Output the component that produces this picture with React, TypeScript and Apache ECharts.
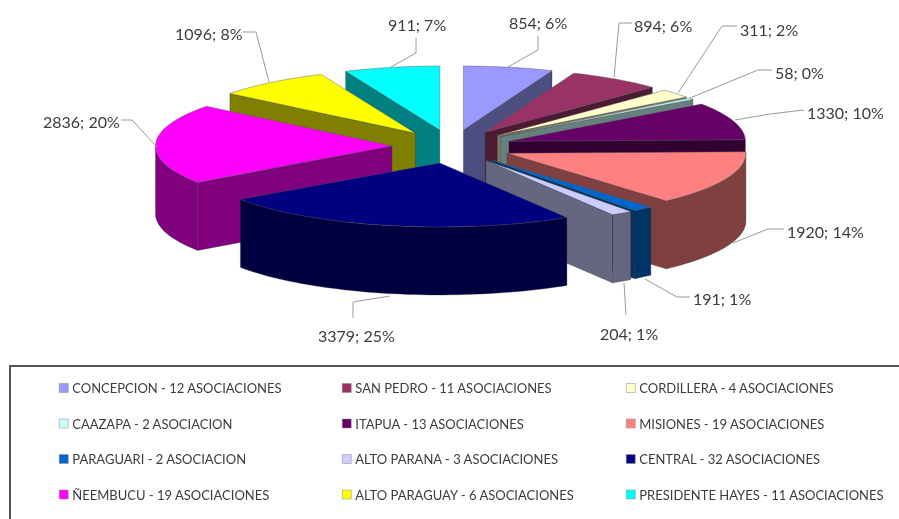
import React, { useEffect, useRef } from "react";
import * as echarts from "echarts";

// ---- data ----
const regions = ["CONCEPCION","SAN PEDRO","CORDILLERA","CAAZAPA","ITAPUA","MISIONES","PARAGUARI","ALTO PARANA","CENTRAL","ÑEEMBUCU","ALTO PARAGUAY","PRESIDENTE HAYES"];
const associations = ["12 ASOCIACIONES","11 ASOCIACIONES","4 ASOCIACIONES","2 ASOCIACION","13 ASOCIACIONES","19 ASOCIACIONES","2 ASOCIACION","3 ASOCIACIONES","32 ASOCIACIONES","19 ASOCIACIONES","6 ASOCIACIONES","11 ASOCIACIONES"];
const values = [854,894,311,58,1330,1920,191,204,3379,2836,1096,911];
const percents = [6,6,2,0,10,14,1,1,25,20,8,7];

// ---- styles ----
const topColors = ["#9999FF","#993366","#FFFFCC","#CCFFFF","#660066","#FF8080","#0066CC","#CCCCFF","#000080","#FF00FF","#FFFF00","#00FFFF"];
const sideColors = ["#4D4D80","#4D1A33","#808066","#668080","#330033","#804040","#003366","#666680","#000040","#800080","#808000","#008080"];

// ---- layout: projection of the exploded pie, label boxes and leader lines ----
const CX = 452, CY = 146.5, RX = 236.5, RY = 64, DEPTH = 68, EX = 60, EY = 16.8, NEAR = 0.025;
const labelPos: [number, number, string][] = [
  [509,22,"left"],[634,25,"left"],[740,29,"left"],[775,72,"left"],[807,112,"left"],[787,231,"left"],
  [693,298,"left"],[600,333,"left"],[318,335,"left"],[43,121,"left"],[175,33,"left"],[388,24,"left"],
];
const leaders: number[][][] = [
  [[506,68],[538,50],[538,36]],
  [[614,77],[619,23],[632,23]],
  [[678,93],[722,26],[737,26]],
  [[690,98],[758,70],[772,70]],
  [[735,120],[770,114],[804,110]],
  [[733,243],[768,229],[784,229]],
  [[645,279],[677,297],[690,297]],
  [[624,283],[626,315]],
  [[390,296],[353,302],[353,318]],
  [[157,147],[132,120],[121,120]],
  [[269,82],[256,32],[243,32]],
  [[391,67],[416,53],[416,38]],
];
const legendColumns = [[0,3,6,9],[1,4,7,10],[2,5,8,11]];
const legendLeft = [59,342,626];

const total = values.reduce((a, b) => a + b, 0);
const rad = (v: number) => (v / total) * Math.PI * 2;
const starts = values.map((_, i) => rad(values.slice(0, i).reduce((a, b) => a + b, 0)));
const legendName = (i: number) => `${regions[i]} - ${associations[i]}`;

function renderSlice(i: number) {
  const a0 = starts[i];
  const a1 = a0 + rad(values[i]);
  const mid = (a0 + a1) / 2;
  const ax = CX + EX * Math.sin(mid);
  const ay = CY - EY * Math.cos(mid);
  const rx = RX * (1 + NEAR * Math.max(0, -Math.cos(mid)));
  const pt = (t: number, d = 0) => [ax + rx * Math.sin(t), ay - RY * Math.cos(t) + d];
  const arc = (from: number, to: number, d = 0) => {
    const n = Math.max(2, Math.ceil(Math.abs(to - from) / 0.03));
    const out: number[][] = [];
    for (let k = 0; k <= n; k++) out.push(pt(from + ((to - from) * k) / n, d));
    return out;
  };
  const side = sideColors[i];
  const wallStyle = { fill: side, stroke: "#2a2a2a", strokeOpacity: 0.55, lineWidth: 0.6 };
  const children: any[] = [];
  const radial = (t: number) => {
    const [x, y] = pt(t);
    // a wall seen almost edge-on along the horizontal only shows above the next slice's top
    const d = Math.abs(Math.cos(t)) < 0.05 ? 14 : DEPTH;
    children.push({
      type: "polygon",
      shape: { points: [[ax, ay], [x, y], [x, y + d], [ax, ay + d]] },
      style: wallStyle,
    });
  };
  if (Math.sin(a0) < 0) radial(a0);
  if (Math.sin(a1) > 0) radial(a1);
  const lo = Math.max(a0, Math.PI / 2);
  const hi = Math.min(a1, (Math.PI * 3) / 2);
  if (hi > lo) {
    children.push({
      type: "polygon",
      shape: { points: [...arc(lo, hi), ...arc(hi, lo, DEPTH)] },
      style: wallStyle,
    });
  }
  children.push({
    type: "polygon",
    shape: { points: [[ax, ay], ...arc(a0, a1)] },
    style: { fill: topColors[i], stroke: "#555", strokeOpacity: 0.6, lineWidth: 0.7 },
  });
  children.push({
    type: "polyline",
    shape: { points: leaders[i] },
    style: { fill: "none", stroke: "#9a9a9a", lineWidth: 1 },
  });
  const [lx, ly, align] = labelPos[i];
  children.push({
    type: "text",
    style: {
      x: lx, y: ly,
      text: `${values[i]}; ${percents[i]}%`,
      fill: "#3c3c3c",
      fontFamily: "Lato",
      fontSize: 16,
      align,
      verticalAlign: "middle",
    },
  });
  return { type: "group", children };
}

export default function App() {
  const ref = useRef<HTMLDivElement>(null);
  useEffect(() => {
    const chart = echarts.init(ref.current!, null, { renderer: "svg" });
    chart.setOption({
      animation: false,
      backgroundColor: "#fff",
      graphic: [{
        type: "polyline",
        shape: { points: [[10, 519], [10, 366], [899, 366]] },
        style: { fill: "none", stroke: "#555", lineWidth: 2 },
      }],
      legend: legendColumns.map((col, c) => ({
        orient: "vertical",
        left: legendLeft[c],
        top: 381,
        data: col.map((i) => legendName(i)),
        icon: "rect",
        itemWidth: 9,
        itemHeight: 9,
        itemGap: 21.5,
        padding: 0,
        selectedMode: false,
        itemStyle: { borderColor: "#888", borderWidth: 0.5 },
        textStyle: { fontFamily: "Lato", fontSize: 13, color: "#3c3c3c", padding: [0, 0, 0, -1], lineHeight: 14 },
      })),
      series: values.map((v, i) => {
        const mid = starts[i] + rad(v) / 2;
        return {
          type: "custom",
          name: legendName(i),
          coordinateSystem: "none",
          silent: true,
          z: 20 - 5 * Math.cos(mid),
          itemStyle: { color: topColors[i] },
          data: [{ name: regions[i], value: [v] }],
          renderItem: () => renderSlice(i),
        };
      }),
    });
    return () => chart.dispose();
  }, []);
  return <div ref={ref} style={{ position: "fixed", left: 0, top: 0, width: 899, height: 519, filter: "blur(0.5px)" }} />;
}
